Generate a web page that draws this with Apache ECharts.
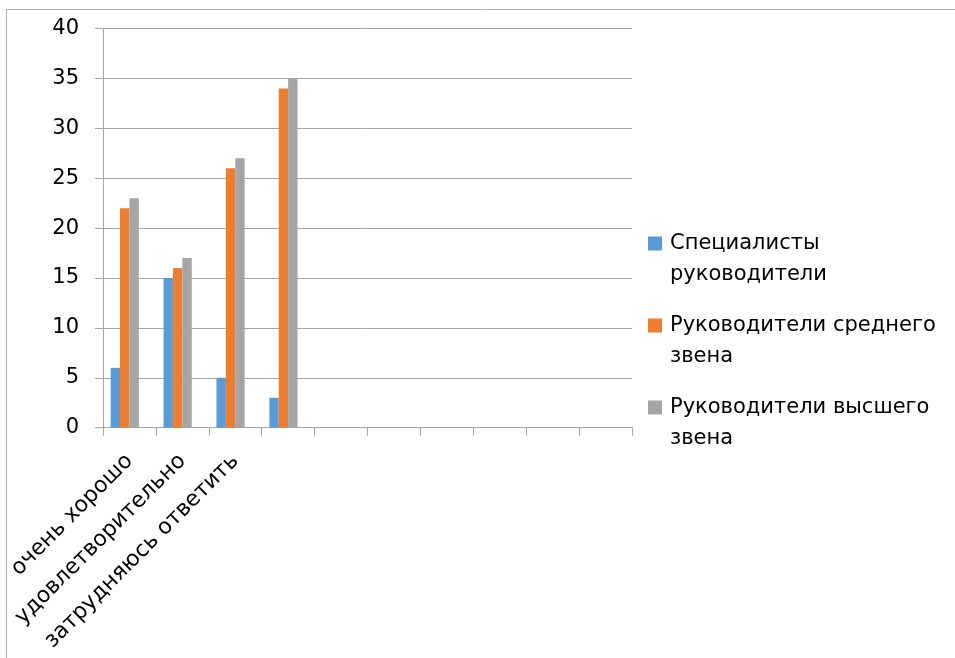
<!DOCTYPE html>
<html><head><meta charset="utf-8">
<script src="https://cdn.jsdelivr.net/npm/echarts@6/dist/echarts.min.js"></script>
<style>html,body{margin:0;padding:0;background:#fff}#c{width:955px;height:658px}</style>
</head><body><div id="c"></div>
<script>
const categories = ['очень хорошо','удовлетворительно','затрудняюсь ответить','','','','','','',''];
const seriesNames = ['Специалисты руководители','Руководители среднего звена','Руководители высшего звена'];
const legendLabels = ['Специалисты\nруководители','Руководители среднего\nзвена','Руководители высшего\nзвена'];
const specialists = [6,15,5,3,null,null,null,null,null,null];
const middle = [22,16,26,34,null,null,null,null,null,null];
const senior = [23,17,27,35,null,null,null,null,null,null];
const emptySlot = [null,null,null,null,null,null,null,null,null,null];
const colors = ['#5B9BD5','#ED7D31','#A5A5A5'];
const yMin = 0, yMax = 40, yStep = 5;

const FONT = 'DejaVu Sans';
const chart = echarts.init(document.getElementById('c'), null, {renderer:'canvas'});
const iconPath = 'path://M0,0L0,0M14,62L14,62M0,8.5H14V22.5H0Z';
const mk = (name, data, color) => ({
  name, type:'bar', data, barWidth:9.4, barGap:'0%',
  itemStyle:{color}, animation:false
});
chart.setOption({
  animation:false,
  textStyle:{fontFamily:FONT},
  graphic:[{type:'rect', shape:{x:6.5,y:9.5,width:980,height:700}, style:{fill:'none',stroke:'#b4b4b4',lineWidth:1}, silent:true, z:-1}],
  grid:{left:103,right:323,top:28.5,bottom:230.3,containLabel:false},
  legend:{
    orient:'vertical', left:648, top:228, padding:0,
    data:seriesNames, itemWidth:14, itemHeight:62, itemGap:20,
    icon:iconPath,
    formatter:(n)=>legendLabels[seriesNames.indexOf(n)],
    textStyle:{fontFamily:FONT,fontSize:21,color:'#000',lineHeight:31,padding:[0,0,0,3]},
    selectedMode:false
  },
  xAxis:{
    type:'category', data:categories,
    axisLine:{lineStyle:{color:'#a6a6a6',width:1}},
    axisTick:{show:true,length:8,lineStyle:{color:'#a6a6a6'},alignWithLabel:false},
    axisLabel:{rotate:45,interval:0,margin:30,fontFamily:FONT,fontSize:22,color:'#000'}
  },
  yAxis:{
    type:'value', min:yMin, max:yMax, interval:yStep,
    axisLine:{show:true,lineStyle:{color:'#a6a6a6'}},
    axisTick:{show:true,length:8,lineStyle:{color:'#a6a6a6'}},
    splitLine:{lineStyle:{color:'#a6a6a6',width:1}},
    axisLabel:{margin:24,fontFamily:FONT,fontSize:21,color:'#000'}
  },
  series:[
    mk(seriesNames[0], specialists, colors[0]),
    mk(seriesNames[1], middle, colors[1]),
    mk(seriesNames[2], senior, colors[2]),
    mk('_empty', emptySlot, 'rgba(0,0,0,0)')
  ]
});
</script></body></html>
